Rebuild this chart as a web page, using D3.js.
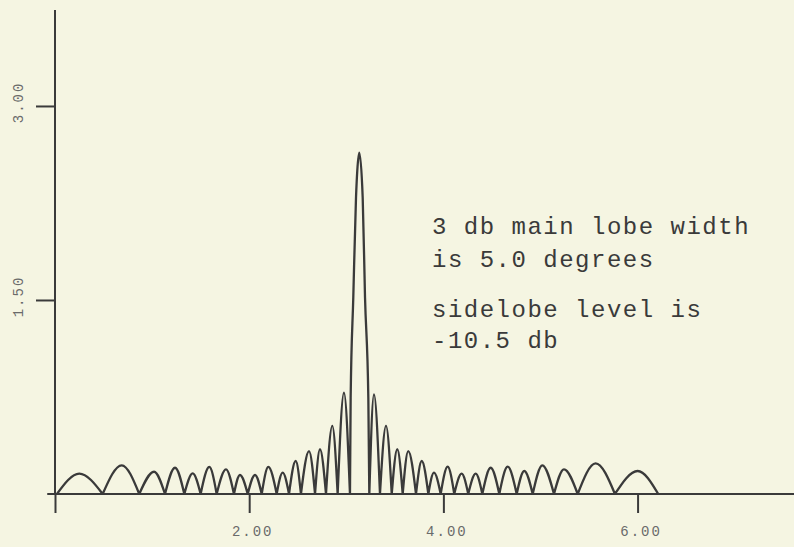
<!DOCTYPE html>
<html>
<head>
<meta charset="utf-8">
<script src="https://cdn.jsdelivr.net/npm/d3@7"></script>
<style>
  html, body { margin: 0; padding: 0; background: #f5f5e2; }
  svg { display: block; }
  .note { font-family: "Liberation Mono", "DejaVu Sans Mono", monospace; font-size: 24px; letter-spacing: 1.5px; fill: #3a3a3a; }
  .tick-label { font-family: "Liberation Mono", "DejaVu Sans Mono", monospace; font-size: 14px; letter-spacing: 2px; fill: #6a6a6a; }
</style>
</head>
<body>
<script>
// Array pattern magnitude versus angle (radians): lobe nulls, lobe peaks
const nullX = [0.02, 0.491, 0.868, 1.133, 1.332, 1.500, 1.665, 1.843, 1.985, 2.129,
               2.283, 2.410, 2.533, 2.678, 2.791, 2.911, 3.038, 3.237, 3.347, 3.468,
               3.581, 3.718, 3.845, 3.972, 4.112, 4.256, 4.401, 4.576, 4.755, 4.920,
               5.139, 5.383, 5.767, 6.213];
const peakX = [0.250, 0.687, 1.020, 1.236, 1.418, 1.589, 1.761, 1.905, 2.060, 2.197,
               2.345, 2.479, 2.616, 2.729, 2.856, 2.976, 3.134, 3.285, 3.409, 3.525,
               3.638, 3.777, 3.903, 4.044, 4.188, 4.333, 4.487, 4.662, 4.833, 5.019,
               5.242, 5.568, 6.001];
const peakY = [0.157, 0.222, 0.172, 0.203, 0.160, 0.209, 0.191, 0.147, 0.147, 0.209,
               0.165, 0.255, 0.332, 0.346, 0.526, 0.783, 2.639, 0.771, 0.526, 0.346,
               0.332, 0.255, 0.165, 0.211, 0.157, 0.157, 0.203, 0.211, 0.178, 0.222,
               0.191, 0.237, 0.178];
// Main lobe outline (flanks and tip)
const mainLobeX = [3.038, 3.045, 3.072, 3.100, 3.113, 3.134, 3.169, 3.193, 3.227, 3.237];
const mainLobeY = [0, 0.745, 1.518, 2.291, 2.497, 2.639, 2.291, 1.518, 0.745, 0];
const mainLobeIndex = 16;

const xTickValues = [0, 2, 4, 6];
const xTickLabels = ["", "2.00", "4.00", "6.00"];
const yTickValues = [1.5, 3];
const yTickLabels = ["1.50", "3.00"];

const annotation = [
  ["3 db main lobe width", "is 5.0 degrees"],
  ["sidelobe level is", "-10.5 db"]
];

const W = 794, H = 547;
const ink = "#3a3a3a";

const svg = d3.select("body").append("svg").attr("width", W).attr("height", H);
svg.append("rect").attr("width", W).attr("height", H).attr("fill", "#f5f5e2");

const x = d3.scaleLinear().domain([0, 7.611]).range([55, 794]);
const y = d3.scaleLinear().domain([0, 3.742]).range([494, 10]);

// Axes
const xAxis = d3.axisBottom(x).tickValues(xTickValues).tickSize(19).tickFormat("");
const gx = svg.append("g").attr("transform", `translate(0,${y(0)})`).call(xAxis);
gx.select(".domain").attr("d", `M${x(-0.08)},0H${W}`);
const yAxis = d3.axisLeft(y).tickValues(yTickValues).tickSize(19).tickFormat("");
const gy = svg.append("g").attr("transform", `translate(${x(0)},0)`).call(yAxis);
gy.select(".domain").attr("d", `M0,${y(3.742)}V${y(0)}`);
svg.selectAll(".domain, .tick line").attr("stroke", ink).attr("stroke-width", 2);

// Tick labels
gx.selectAll(".tick").append("text")
  .attr("class", "tick-label")
  .attr("x", 3).attr("y", 42)
  .attr("text-anchor", "middle")
  .text((d, i) => xTickLabels[i]);
gy.selectAll(".tick").append("text")
  .attr("class", "tick-label")
  .attr("transform", "translate(-32,-4) rotate(-90)")
  .attr("text-anchor", "middle")
  .text((d, i) => yTickLabels[i]);

// Pattern: each lobe drawn from null to peak to null
const line = d3.line().x(d => x(d[0])).y(d => y(d[1])).curve(d3.curveMonotoneX);
let pathD = "";
peakX.forEach((px, i) => {
  let pts;
  if (i === mainLobeIndex) {
    pts = mainLobeX.map((mx, j) => [mx, mainLobeY[j]]);
  } else {
    pts = [[nullX[i], 0], [px, peakY[i]], [nullX[i + 1], 0]];
  }
  pathD += line(pts);
});
svg.append("path")
  .attr("d", pathD)
  .attr("fill", "none")
  .attr("stroke", ink)
  .attr("stroke-width", 2.3)
  .attr("stroke-linejoin", "round");

// Annotation text
const noteX = 432;
const baselines = [[234, 267], [317, 348]];
annotation.forEach((block, b) => {
  block.forEach((t, k) => {
    svg.append("text").attr("class", "note")
      .attr("x", noteX).attr("y", baselines[b][k]).text(t);
  });
});
</script>
</body>
</html>
